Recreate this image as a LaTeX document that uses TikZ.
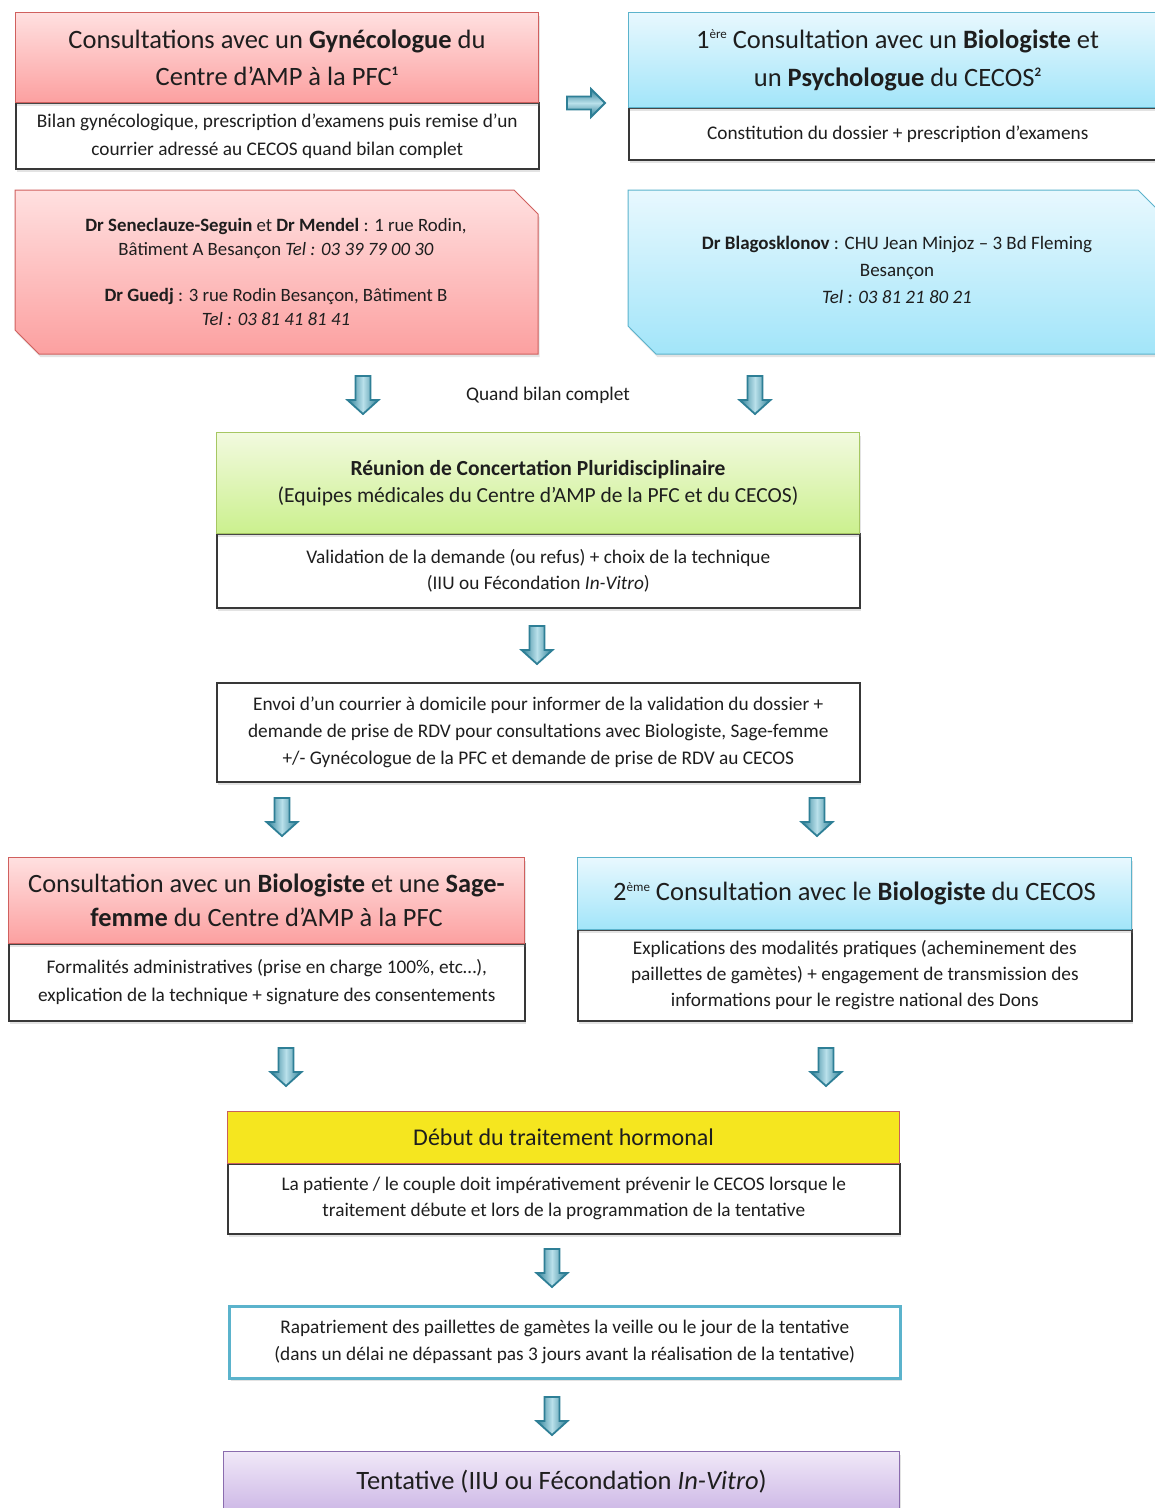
\documentclass[tikz,border=0pt]{standalone}
\usepackage{fontspec}
\setmainfont{Carlito}
\usetikzlibrary{shadows}
\definecolor{rbord}{HTML}{D0605E}
\definecolor{rtop}{HTML}{FFE0E0}
\definecolor{rbot}{HTML}{FCA0A0}
\definecolor{bbord}{HTML}{5BB3CC}
\definecolor{btop}{HTML}{E8F8FE}
\definecolor{bbot}{HTML}{A2E5F9}
\definecolor{gbord}{HTML}{A6C762}
\definecolor{gtop}{HTML}{F2FADF}
\definecolor{gbot}{HTML}{CBF08E}
\definecolor{yfill}{HTML}{F5E61F}
\definecolor{ybord}{HTML}{C8605C}
\definecolor{pbord}{HTML}{8A6CAE}
\definecolor{ptop}{HTML}{F0E8F8}
\definecolor{pbot}{HTML}{CDB8E6}
\definecolor{arrteal}{HTML}{2E7F96}
\definecolor{arrlight}{HTML}{B9E0EA}
\definecolor{txt}{HTML}{1E1E1E}
\newcommand{\sz}[2]{\fontsize{#1}{#2}\selectfont}
\newcommand{\supx}[1]{\raisebox{0.36em}{\fontsize{13}{13}\selectfont #1}}
\tikzset{
  box/.style={rectangle, inner sep=0pt, align=center, anchor=north west, text=txt},
  softshadow/.style={drop shadow={opacity=0.22, shadow xshift=1.5pt, shadow yshift=-3pt}},
  bodybox/.style={box, draw=black!78, line width=1.6pt, fill=white, softshadow},
  redhdr/.style={box, draw=rbord, line width=1pt, top color=rtop, bottom color=rbot, softshadow},
  bluehdr/.style={box, draw=bbord, line width=1pt, top color=btop, bottom color=bbot, softshadow},
  greenhdr/.style={box, draw=gbord, line width=1pt, top color=gtop, bottom color=gbot, softshadow},
  yellowhdr/.style={box, draw=ybord, line width=1.2pt, fill=yfill},
  purplehdr/.style={box, draw=pbord, line width=1.2pt, top color=ptop, bottom color=pbot, softshadow},
  tealbox/.style={box, draw=bbord, line width=2.5pt, fill=white, softshadow},
  blockarrow/.style={draw=arrteal, line width=1.8pt, left color=arrteal, right color=arrteal, middle color=arrlight},
  blockarrowh/.style={draw=arrteal, line width=1.8pt, top color=arrteal, bottom color=arrteal, middle color=arrlight},
}
\newcommand{\dnarrow}[2]{\path[blockarrow, shift={(#1,#2)}] (-7.5,0) -- (7.5,0) -- (7.5,24) -- (15.5,24) -- (0,38) -- (-15.5,24) -- (-7.5,24) -- cycle;}
\begin{document}
\begin{tikzpicture}[x=1pt,y=-1pt]
\useasboundingbox (0,0) rectangle (1155,1508);
\fill[white] (0,0) rectangle (1155,1508);

% ---------- top left
\node[bodybox, minimum width=523pt, minimum height=66pt, font={\sz{19.3}{28}}] (b1) at (15,102)
  {Bilan gynécologique, prescription d’examens puis remise d’un\\courrier adressé au CECOS quand bilan complet};
\node[redhdr, minimum width=523pt, minimum height=90pt, font={\sz{26.5}{37}}] (h1) at (15,12)
  {Consultations avec un \textbf{Gynécologue} du\\Centre d’AMP à la PFC\supx{\textbf{1}}};

% ---------- top right
\node[bodybox, minimum width=538pt, minimum height=52pt, font={\sz{19.3}{28}}] (b2) at (628,107)
  {Constitution du dossier + prescription d’examens};
\node[bluehdr, minimum width=538pt, minimum height=95pt, font={\sz{26.5}{38}}] (h2) at (628,12)
  {1\supx{ère} Consultation avec un \textbf{Biologiste} et\\un \textbf{Psychologue} du CECOS\supx{\textbf{2}}};

\path[blockarrowh, shift={(567,103)}] (0,-6.5) -- (24,-6.5) -- (24,-14) -- (38,0) -- (24,14) -- (24,6.5) -- (0,6.5) -- cycle;

% ---------- contact boxes
\path[draw=rbord, line width=1pt, top color=rtop, bottom color=rbot, softshadow]
  (15,190) -- (514,190) -- (538,214) -- (538,354) -- (39,354) -- (15,330) -- cycle;
\node[text=txt, align=center, font={\sz{18.8}{24}}] (c1) at (276,272)
  {\textbf{Dr Seneclauze-Seguin} et \textbf{Dr Mendel} : 1 rue Rodin,\\Bâtiment A Besançon \textit{Tel : 03 39 79 00 30}\\[22pt]\textbf{Dr Guedj} : 3 rue Rodin Besançon, Bâtiment B\\\textit{Tel : 03 81 41 81 41}};

\path[draw=bbord, line width=1pt, top color=btop, bottom color=bbot, softshadow]
  (628,190) -- (1138,190) -- (1166,218) -- (1166,354) -- (656,354) -- (628,326) -- cycle;
\node[text=txt, align=center, font={\sz{19}{27}}] (c2) at (897,270)
  {\textbf{Dr Blagosklonov} : CHU Jean Minjoz – 3 Bd Fleming\\Besançon\\\textit{Tel : 03 81 21 80 21}};

\dnarrow{363}{376}
\dnarrow{755}{376}
\node[text=txt, font={\sz{19.3}{22}}] (qb) at (548,395) {Quand bilan complet};

% ---------- RCP
\node[bodybox, minimum width=643pt, minimum height=74pt, font={\sz{19.3}{26}}] (b3) at (216,533)
  {Validation de la demande (ou refus) + choix de la technique\\(IIU ou Fécondation \textit{In-Vitro})};
\node[greenhdr, minimum width=643pt, minimum height=101pt, font={\sz{21.5}{27}}] (h3) at (216,432)
  {\textbf{Réunion de Concertation Pluridisciplinaire}\\(Equipes médicales du Centre d’AMP de la PFC et du CECOS)};

\dnarrow{537}{626}

% ---------- Envoi
\node[bodybox, minimum width=643pt, minimum height=99pt, font={\sz{19.3}{27}}] (b4) at (216,682)
  {Envoi d’un courrier à domicile pour informer de la validation du dossier +\\demande de prise de RDV pour consultations avec Biologiste, Sage-femme\\+/- Gynécologue de la PFC et demande de prise de RDV au CECOS};

\dnarrow{282}{798}
\dnarrow{817}{798}

% ---------- bottom left
\node[bodybox, minimum width=516pt, minimum height=77pt, font={\sz{19.3}{28}}] (b5) at (8,943)
  {Formalités administratives (prise en charge 100\%, etc…),\\explication de la technique + signature des consentements};
\node[redhdr, minimum width=516pt, minimum height=86pt, font={\sz{26.4}{34}}] (h5) at (8,857)
  {Consultation avec un \textbf{Biologiste} et une \textbf{Sage-}\\\textbf{femme} du Centre d’AMP à la PFC};

% ---------- bottom right
\node[bodybox, minimum width=554pt, minimum height=91pt, font={\sz{19.3}{26}}] (b6) at (577,929)
  {Explications des modalités pratiques (acheminement des\\paillettes de gamètes) + engagement de transmission des\\informations pour le registre national des Dons};
\node[bluehdr, minimum width=554pt, minimum height=72pt, font={\sz{26.5}{30}}] (h6) at (577,857)
  {2\supx{ème} Consultation avec le \textbf{Biologiste} du CECOS};

\dnarrow{286}{1048}
\dnarrow{826}{1048}

% ---------- Debut
\node[bodybox, minimum width=672pt, minimum height=70pt, font={\sz{19.3}{26}}] (b7) at (227,1163)
  {La patiente / le couple doit impérativement prévenir le CECOS lorsque le\\traitement débute et lors de la programmation de la tentative};
\node[yellowhdr, minimum width=672pt, minimum height=52pt, font={\sz{24}{28}}] (h7) at (227,1111)
  {Début du traitement hormonal};

\dnarrow{552}{1249}

% ---------- Rapatriement
\node[tealbox, minimum width=671pt, minimum height=72pt, font={\sz{19.3}{27}}] (b8) at (228,1305)
  {Rapatriement des paillettes de gamètes la veille ou le jour de la tentative\\(dans un délai ne dépassant pas 3 jours avant la réalisation de la tentative)};

\dnarrow{552}{1397}

% ---------- Tentative
\node[purplehdr, minimum width=676pt, minimum height=60pt, font={\sz{26.5}{30}}] (h9) at (223,1451)
  {Tentative (IIU ou Fécondation \textit{In-Vitro})};
\end{tikzpicture}
\end{document}
